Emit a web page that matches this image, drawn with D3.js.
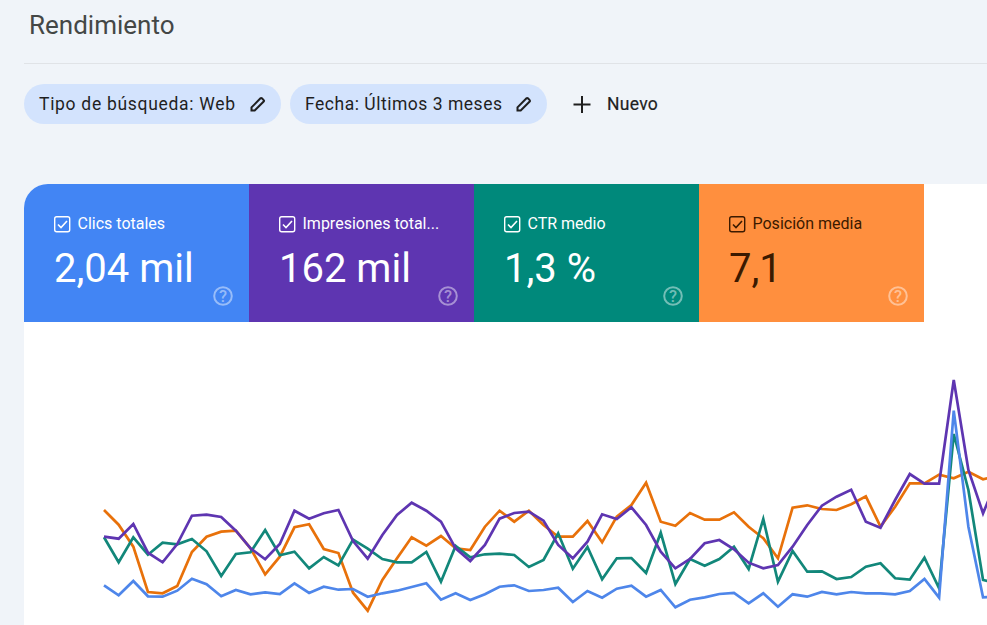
<!DOCTYPE html>
<html>
<head>
<meta charset="utf-8">
<script src="https://cdn.jsdelivr.net/npm/d3@7"></script>
<style>
  body { margin: 0; background: #f0f4f9; overflow: hidden; }
  svg { display: block; }
  text { font-family: Roboto, sans-serif; }
</style>
</head>
<body>
<svg id="chart" width="987" height="625"></svg>
<script>
// values, relative index (no axis in the screenshot)
const clicks = [54.7,44.7,59,43.7,43.3,49.3,61.3,55.7,43.7,50,45.7,47.7,46,56.7,47,53.3,50.3,51,43.3,46.7,
  49.3,53,56.7,40.3,46.7,40,45.7,53.3,54.7,49,50,52.3,38,49,42.3,51.3,54.3,43.3,50,32.7,
  40.3,42.7,46,47,36.7,46.7,33.3,45.7,43.3,48,45.7,48,46.7,46.7,45.7,49,61,42.3,229.3,113.3,42.7,43.3];
const impressions = [103.3,101.3,116,87.3,77.7,96,124.3,125.3,123,109.3,91.7,80.7,96,129.3,121.3,126.7,130,99,81.3,105,
  125,137.3,129.3,118.3,91.7,79,95,121.3,127,128.3,119.3,95,81.7,98.3,125.7,121,132.7,115,88.3,71.7,
  81,96.7,100,90.7,77.3,71.7,75,93.3,115,134.3,143.3,150.3,118.3,112.3,140,166,156.3,156.3,260,170,126.7,162];
const ctr = [102.7,77.7,102.7,85.3,97.3,95.7,101,88.7,64,86,87.7,110,84.7,88.3,71.7,83,74.7,100.3,91.3,81,
  77.7,77.7,88,58.3,94,82.7,85.7,86.3,85,73,80,106.7,71.3,93,60.7,81.7,82,67,107.3,56,
  81,74.3,81,93.3,71,121,58.3,89,68.3,68.7,61,63,73.3,76.7,61.7,60.3,82.3,51.7,206,150,60,56.7];
const position = [130,115.3,93.3,48,46.7,54,88,103.3,108.3,109.3,91.7,65.7,83.3,112.7,115.7,91,87,47.3,29.3,60,
  81.7,102.7,94.3,104,91.7,90,113.3,129.3,118.3,129.3,115,103.3,103.3,119,97.7,123.3,135,157.3,118.3,114.3,
  127,120.3,120.3,127.7,113.3,101.7,81.7,132.3,134.7,131,130,135.7,143.7,113.3,133.3,156.7,156.7,165.3,161.7,168.3,160.7,164];

const cardLabels = ["Clics totales", "Impresiones total...", "CTR medio", "Posición media"];
const cardValues = ["2,04 mil", "162 mil", "1,3 %", "7,1"];
const cardColors = ["#4285f4", "#5e35b1", "#00897b", "#ff8f3e"];
const cardInk = ["#fff", "#fff", "#fff", "#3b1a00"];
const chipLabels = ["Tipo de búsqueda: Web", "Fecha: Últimos 3 meses"];

const svg = d3.select("#chart");

// header
svg.append("text").attr("x", 29).attr("y", 34)
  .attr("font-size", 26).attr("fill", "#444746")
  .text("Rendimiento");

svg.append("line").attr("x1", 24).attr("x2", 987).attr("y1", 63.5).attr("y2", 63.5)
  .attr("stroke", "#e0e3e7");

// filter chips
const chipX = d3.scaleOrdinal().domain(chipLabels).range([24, 290]);
const chipTextWidth = d3.scaleOrdinal().domain(chipLabels).range([196, 197]);
const pencil = "M-6.5 6.5v-3.2l9-9a1 1 0 0 1 1.4 0l1.8 1.8a1 1 0 0 1 0 1.4l-9 9z";

const chips = svg.append("g").selectAll("g")
  .data(chipLabels)
  .join("g")
  .attr("transform", d => `translate(${chipX(d)},84)`);

chips.append("rect")
  .attr("width", 257).attr("height", 40).attr("rx", 20)
  .attr("fill", "#d3e3fd");

chips.append("text")
  .attr("x", 15).attr("y", 25.5)
  .attr("font-size", 17.5).attr("fill", "#1f1f1f")
  .attr("textLength", d => chipTextWidth(d))
  .text(d => d);

chips.append("path")
  .attr("transform", "translate(234,20)")
  .attr("d", pencil)
  .attr("fill", "none").attr("stroke", "#1f1f1f").attr("stroke-width", 2);

svg.append("path").attr("d", "M582 96v17M573.5 104.5h17")
  .attr("stroke", "#1f1f1f").attr("stroke-width", 2);

svg.append("text").attr("x", 607).attr("y", 110)
  .attr("font-size", 17.5).attr("letter-spacing", 0.3).attr("fill", "#1f1f1f")
  .attr("stroke", "#1f1f1f").attr("stroke-width", 0.2)
  .text("Nuevo");

// white panel behind cards and chart
svg.append("path")
  .attr("d", "M24 625V208a24 24 0 0 1 24-24H987V625z")
  .attr("fill", "#fff");

// metric cards
const cardX = d3.scaleBand().domain(d3.range(4)).range([24, 924]);

svg.append("clipPath").attr("id", "cardClip").append("path")
  .attr("d", "M0 138V24a24 24 0 0 1 24-24H225V138z");

const cards = svg.append("g").selectAll("g")
  .data(cardLabels)
  .join("g")
  .attr("transform", (d, i) => `translate(${cardX(i)},184)`);

// only the first card has the rounded corner
cards.append("rect")
  .attr("clip-path", (d, i) => i === 0 ? "url(#cardClip)" : null)
  .attr("width", cardX.bandwidth()).attr("height", 138)
  .attr("fill", (d, i) => cardColors[i]);

cards.append("rect")
  .attr("x", 30.7).attr("y", 32.7).attr("width", 15).attr("height", 15).attr("rx", 2)
  .attr("fill", "none").attr("stroke", (d, i) => cardInk[i]).attr("stroke-width", 1.4);

cards.append("path")
  .attr("d", "M34 40.5l3 3l6-6.5")
  .attr("fill", "none").attr("stroke", (d, i) => cardInk[i]).attr("stroke-width", 1.6);

cards.append("text")
  .attr("x", 53.5).attr("y", 45)
  .attr("font-size", 16).attr("fill", (d, i) => cardInk[i])
  .text(d => d);

cards.append("text")
  .attr("x", 30).attr("y", 98)
  .attr("font-size", 40).attr("fill", (d, i) => cardInk[i])
  .text((d, i) => cardValues[i]);

cards.append("circle")
  .attr("cx", 199).attr("cy", 112).attr("r", 8.8)
  .attr("fill", "none").attr("stroke", "#fff").attr("stroke-opacity", 0.45).attr("stroke-width", 2);

cards.append("text")
  .attr("x", 199).attr("y", 118).attr("text-anchor", "middle")
  .attr("font-size", 16.5).attr("font-weight", 500)
  .attr("fill", "#fff").attr("fill-opacity", 0.45)
  .text("?");

// lines
const x = d3.scaleLinear().domain([0, clicks.length - 1]).range([104, 997.7]);
const y = d3.scaleLinear().domain([0, 260]).range([640, 380]);

const line = d3.line().x((d, i) => x(i)).y(d => y(d));

const series = [
  { values: position, color: "#e8710a" },
  { values: ctr, color: "#12877a" },
  { values: clicks, color: "#4e86ea" },
  { values: impressions, color: "#5e35b1" }
];

svg.append("g").selectAll("path")
  .data(series)
  .join("path")
  .attr("d", d => line(d.values))
  .attr("fill", "none")
  .attr("stroke", d => d.color)
  .attr("stroke-width", 2.7)
  .attr("stroke-linejoin", "miter");
</script>
</body>
</html>
